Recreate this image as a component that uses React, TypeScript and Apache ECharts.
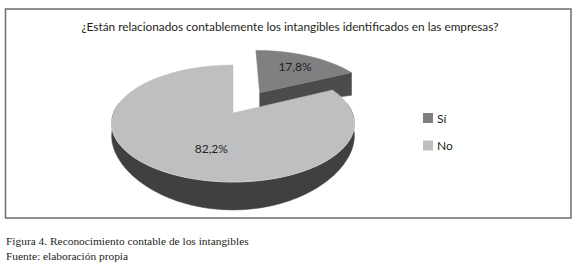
import React, { useEffect, useRef } from 'react';
import * as echarts from 'echarts';

// ---- data ----
const chartTitle = '¿Están relacionados contablemente los intangibles identificados en las empresas?';
const categories = ['Sí', 'No'];
const values = [17.8, 82.2];
const valueLabels = ['17,8%', '82,2%'];
const explode = [0.45, 0];
const captionLines = [
  'Figura 4. Reconocimiento contable de los intangibles',
  'Fuente: elaboración propia',
];

// ---- styles ----
const topColors = ['#808083', '#bebfc1'];
const sideColors = ['#4b4b4d', '#404042'];
const labelPlace = [
  { r: 0.7, dAngle: 0 },
  { r: 0.59, dAngle: -16 },
];
const PROJ = { cx: 233, cy: 113, a: 665, b: 315, d: 5.57, dep0: 12, dep2: 16 };
const FONT = 'Lato, "Open Sans", sans-serif';

function project(u: number, v: number, h: number): number[] {
  const w = PROJ.d - v;
  return [PROJ.cx + (PROJ.a * u) / w, PROJ.cy + (PROJ.b * v) / w + h * (PROJ.dep0 + PROJ.dep2 * v * v)];
}
const rad = (deg: number) => (deg * Math.PI) / 180;

function sliceAngles(i: number) {
  const total = values.reduce((s, x) => s + x, 0);
  let acc = 0;
  for (let k = 0; k < i; k++) acc += values[k];
  const a1 = (acc / total) * 360;
  const a2 = ((acc + values[i]) / total) * 360;
  return [a1, a2];
}

function renderItem(params: any) {
  const i = params.dataIndex;
  const [a1, a2] = sliceAngles(i);
  const mid = (a1 + a2) / 2;
  const ox = explode[i] * Math.sin(rad(mid));
  const oy = -explode[i] * Math.cos(rad(mid));
  const rim = (deg: number, h: number) => project(ox + Math.sin(rad(deg)), oy - Math.cos(rad(deg)), h);
  const apex = (h: number) => project(ox, oy, h);
  const arc = (from: number, to: number, h: number) => {
    const pts: number[][] = [];
    const n = Math.max(2, Math.ceil(Math.abs(to - from)));
    for (let k = 0; k <= n; k++) pts.push(rim(from + ((to - from) * k) / n, h));
    return pts;
  };
  const children: any[] = [];
  const side = sideColors[i];
  // outer rim side
  const r1 = Math.max(a1, 80);
  const r2 = Math.min(a2, 280);
  if (r2 > r1) {
    const pts = arc(r1, r2, 0).concat(arc(r1, r2, 1).reverse());
    children.push({ type: 'polygon', shape: { points: pts }, style: { fill: side, stroke: side, lineWidth: 0.5 } });
  }
  // cut faces
  if (Math.sin(rad(a2)) > 0.01) {
    const pts = [apex(0), rim(a2, 0), rim(a2, 1), apex(1)];
    children.push({ type: 'polygon', shape: { points: pts }, style: { fill: side, stroke: side, lineWidth: 0.5 } });
  }
  if (Math.sin(rad(a1)) < -0.01) {
    const pts = [apex(0), rim(a1, 0), rim(a1, 1), apex(1)];
    children.push({ type: 'polygon', shape: { points: pts }, style: { fill: side, stroke: side, lineWidth: 0.5 } });
  }
  // top face
  const top = [apex(0)].concat(arc(a1, a2, 0));
  children.push({ type: 'polygon', shape: { points: top }, style: { fill: topColors[i], stroke: topColors[i], lineWidth: 0.5 } });
  // rim highlight
  const h1 = Math.max(a1, 95);
  const h2 = Math.min(a2, 265);
  if (h2 > h1) {
    children.push({ type: 'polyline', shape: { points: arc(h1, h2, 0) }, style: { stroke: '#d3d3d5', lineWidth: 0.8, fill: 'none' } });
  }
  // label
  const la = mid + labelPlace[i].dAngle;
  const lr = labelPlace[i].r;
  const lp = project(ox + lr * Math.sin(rad(la)), oy - lr * Math.cos(rad(la)), 0);
  children.push({
    type: 'text',
    x: lp[0],
    y: lp[1],
    style: {
      text: valueLabels[i],
      fill: '#231f20',
      font: `12px ${FONT}`,
      align: 'center',
      verticalAlign: 'middle',
      textAlign: 'center',
      textVerticalAlign: 'middle',
    },
  });
  return { type: 'group', children };
}

export default function App() {
  const ref = useRef<HTMLDivElement>(null);
  useEffect(() => {
    document.body.style.margin = '0';
    if (!ref.current) return;
    const chart = echarts.init(ref.current, undefined, { renderer: 'svg' });
    const legendEls: any[] = [];
    categories.forEach((c, i) => {
      legendEls.push({
        type: 'rect',
        shape: { x: 423, y: 113 + i * 27.5, width: 10, height: 10 },
        style: { fill: topColors[i] },
      });
      legendEls.push({
        type: 'text',
        x: 437,
        y: 118 + i * 27.5,
        style: { text: c, fill: '#231f20', font: `12px ${FONT}`, verticalAlign: 'middle', textVerticalAlign: 'middle' },
      });
    });
    const captionEls = captionLines.map((t, i) => ({
      type: 'text',
      x: 6,
      y: 246 + i * 15,
      style: {
        text: t,
        fill: '#231f20',
        font: '11.4px "Liberation Serif", "DejaVu Serif", serif',
        verticalAlign: 'bottom',
        textVerticalAlign: 'bottom',
      },
    }));
    chart.setOption({
      animation: false,
      backgroundColor: '#ffffff',
      title: {
        text: chartTitle,
        left: 'center',
        top: 15,
        textStyle: { fontFamily: FONT, fontSize: 11.8, fontWeight: 'normal', color: '#231f20' },
      },
      graphic: [
        {
          type: 'rect',
          shape: { x: 5.5, y: 9, width: 565.5, height: 209 },
          style: { fill: 'none', stroke: '#6d6d6f', lineWidth: 1.5 },
          z: 0,
        },
        ...legendEls,
        ...captionEls,
      ],
      series: [
        {
          type: 'custom',
          coordinateSystem: 'none',
          renderItem,
          data: values.map((v, i) => ({ name: categories[i], value: v })),
        },
      ],
    });
    return () => chart.dispose();
  }, []);
  return <div ref={ref} style={{ width: 580, height: 265 }} />;
}
